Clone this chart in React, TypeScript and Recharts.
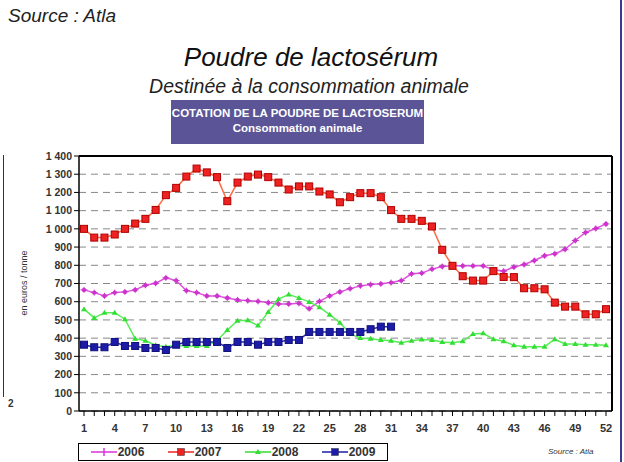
import { LineChart, Line, XAxis, YAxis, CartesianGrid, ReferenceLine } from "recharts";

const weeks = Array.from({ length: 52 }, (_, i) => i + 1);

const prix2006 = [
  665, 650, 632, 650, 654, 665, 690, 701, 731, 716, 661, 650, 632, 632, 621, 610, 606, 602, 595, 588,
  588, 591, 562, 602, 632, 654, 672, 687, 694, 698, 705, 716, 753, 757, 779, 793, 797, 797, 797, 797,
  775, 768, 790, 804, 826, 852, 863, 888, 936, 980, 1002, 1027,
];
const prix2007 = [
  1000, 952, 952, 969, 1000, 1029, 1055, 1104, 1185, 1225, 1287, 1331, 1310, 1284, 1152, 1254, 1287, 1298, 1284, 1254,
  1216, 1233, 1233, 1205, 1189, 1146, 1174, 1196, 1196, 1174, 1103, 1055, 1055, 1044, 1013, 885, 797, 740, 716, 716,
  768, 736, 735, 674, 674, 668, 595, 573, 573, 531, 531, 559,
];
const prix2008 = [
  559, 511, 540, 540, 504, 397, 386, 361, 353, 361, 357, 357, 357, 386, 445, 496, 498, 469, 544, 614,
  639, 621, 599, 570, 529, 485, 423, 401, 397, 390, 386, 375, 386, 392, 390, 379, 375, 383, 423, 427,
  394, 383, 361, 353, 353, 353, 394, 368, 368, 364, 364, 361,
];
const prix2009 = [
  364, 350, 350, 379, 357, 357, 346, 346, 335, 364, 379, 379, 379, 379, 346, 379, 379, 364, 379, 379,
  390, 390, 434, 434, 434, 434, 434, 434, 449, 463, 463,
];

const yTicks = [0, 100, 200, 300, 400, 500, 600, 700, 800, 900, 1000, 1100, 1200, 1300, 1400];

const data = weeks.map((w, i) => ({
  week: w,
  a2006: prix2006[i],
  a2007: prix2007[i],
  a2008: prix2008[i],
  a2009: i < prix2009.length ? prix2009[i] : null,
}));

const fmt = (v: number) => (v >= 1000 ? `${Math.floor(v / 1000)} ${String(v % 1000).padStart(3, "0")}` : String(v));

const squareDot = (fill: string, stroke: string) => (p: any) => {
  if (p.cy == null || p.value == null) return <g key={p.key} />;
  return <rect key={p.key} x={p.cx - 3.5} y={p.cy - 3.5} width={7} height={7} fill={fill} stroke={stroke} strokeWidth={1} />;
};
const triDot = (fill: string) => (p: any) => {
  if (p.cy == null) return <g key={p.key} />;
  return <path key={p.key} d={`M${p.cx},${p.cy - 3} L${p.cx + 3},${p.cy + 2} L${p.cx - 3},${p.cy + 2} Z`} fill={fill} />;
};
const starDot = (fill: string) => (p: any) => {
  if (p.cy == null) return <g key={p.key} />;
  return (
    <g key={p.key}>
      <circle cx={p.cx} cy={p.cy} r={2.2} fill={fill} />
      <path d={`M${p.cx - 3.5},${p.cy} H${p.cx + 3.5} M${p.cx},${p.cy - 3} V${p.cy + 3}`} stroke={fill} strokeWidth={1} />
    </g>
  );
};

const XTick = (p: any) => {
  const w = p.payload.value;
  if ((w - 1) % 3 !== 0) return <g />;
  return (
    <text x={p.x} y={p.y + 14} textAnchor="middle" fontSize={11} fontWeight="bold" fill="#333" fontFamily="Arial, Liberation Sans">
      {w}
    </text>
  );
};

const legendItems = [
  { label: "2006", color: "#dd33dd", kind: "star" },
  { label: "2007", color: "#ee2222", kind: "square" },
  { label: "2008", color: "#33dd33", kind: "tri" },
  { label: "2009", color: "#1c1ca8", kind: "square" },
];

export default function App() {
  return (
    <div style={{ position: "absolute", left: 0, top: 0, width: 624, height: 462, background: "#fff", overflow: "hidden", fontFamily: "Arial, 'Liberation Sans', sans-serif" }}>
      <div style={{ position: "absolute", left: 8, top: 5, fontSize: 19, fontStyle: "italic", color: "#222" }}>Source : Atla</div>
      <div style={{ position: "absolute", left: 0, width: 624, textAlign: "center", top: 42, fontSize: 26, fontStyle: "italic", color: "#111" }}>
        <span style={{ position: "relative", left: -1 }}>Poudre de lactosérum</span>
      </div>
      <div style={{ position: "absolute", left: 0, width: 618, textAlign: "center", top: 75, fontSize: 19.5, fontStyle: "italic", color: "#222" }}>
        Destinée à la consommation animale
      </div>
      <div style={{ position: "absolute", left: 171, top: 100, width: 253, height: 44, background: "#5b5598", color: "#fff", fontWeight: "bold", fontSize: 11.5, textAlign: "center", lineHeight: "15px", paddingTop: 6, boxSizing: "border-box" }}>
        COTATION DE LA POUDRE DE LACTOSERUM
        <br />
        Consommation animale
      </div>
      <div style={{ position: "absolute", left: 3, top: 155, width: 1, height: 242, background: "#333" }} />
      <div style={{ position: "absolute", left: 8, top: 398, fontSize: 10, fontWeight: "bold", color: "#333" }}>2</div>
      <div style={{ position: "absolute", left: 620, top: 0, width: 2, height: 462, background: "#3a3a90" }} />
      <div style={{ position: "absolute", left: 24, top: 283, transform: "translate(-50%, -50%) rotate(-90deg)", fontSize: 9, color: "#333", whiteSpace: "nowrap" }}>
        en euros / tonne
      </div>
      <div style={{ position: "absolute", left: 0, top: 0 }}>
        <LineChart width={624} height={462} data={data} margin={{ top: 156, right: 11, bottom: 21, left: 39 }}>
          <CartesianGrid horizontal vertical={false} stroke="#888" strokeDasharray="7 5" />
          <XAxis
            dataKey="week"
            interval={0}
            padding={{ left: 5, right: 6 }}
            tick={<XTick />}
            tickLine={{ stroke: "#000" }}
            tickSize={5}
            axisLine={{ stroke: "#000", strokeWidth: 1.5 }}
            height={30}
          />
          <YAxis
            domain={[0, 1400]}
            ticks={yTicks}
            tickFormatter={fmt}
            interval={0}
            width={40}
            tickSize={5}
            tick={{ fontSize: 10.5, fontWeight: "bold", fill: "#333", fontFamily: "Arial, Liberation Sans" }}
            tickLine={{ stroke: "#000" }}
            axisLine={{ stroke: "#000", strokeWidth: 1.5 }}
          />
          <YAxis yAxisId="r" orientation="right" width={1} tick={false} tickLine={false} axisLine={{ stroke: "#000", strokeWidth: 2 }} />
          <ReferenceLine y={1400} stroke="#000" strokeWidth={2} />
          <Line dataKey="a2006" stroke="#e050e0" strokeWidth={1.5} dot={starDot("#cc33cc")} isAnimationActive={false} />
          <Line dataKey="a2007" stroke="#ff6a40" strokeWidth={1.5} dot={squareDot("#ee2222", "#b00000")} isAnimationActive={false} />
          <Line dataKey="a2008" stroke="#55ee55" strokeWidth={1.5} dot={triDot("#33dd33")} isAnimationActive={false} />
          <Line dataKey="a2009" stroke="#2a2ab0" strokeWidth={1.5} dot={squareDot("#1c1ca8", "#10107a")} isAnimationActive={false} connectNulls={false} />
        </LineChart>
      </div>
      <div style={{ position: "absolute", left: 78, top: 443, width: 310, height: 18, border: "1.5px solid #000", boxSizing: "border-box", display: "flex", alignItems: "center" }}>
        {legendItems.map((it) => (
          <div key={it.label} style={{ width: 77, display: "flex", alignItems: "center", justifyContent: "center", fontSize: 12, fontWeight: "bold", color: "#333" }}>
            <svg width={26} height={10} style={{ marginRight: 1 }}>
              <line x1={0} y1={5} x2={26} y2={5} stroke={it.color} strokeWidth={1.5} />
              {it.kind === "square" && <rect x={9.5} y={1.5} width={7} height={7} fill={it.color} stroke="#333" strokeWidth={0.5} />}
              {it.kind === "tri" && <path d="M13,2 L16,7 L10,7 Z" fill={it.color} />}
              {it.kind === "star" && <path d="M13,1 V9" stroke={it.color} strokeWidth={1.5} />}
            </svg>
            {it.label}
          </div>
        ))}
      </div>
      <div style={{ position: "absolute", left: 548, top: 447, fontSize: 8, fontStyle: "italic", color: "#333" }}>Source : Atla</div>
    </div>
  );
}
